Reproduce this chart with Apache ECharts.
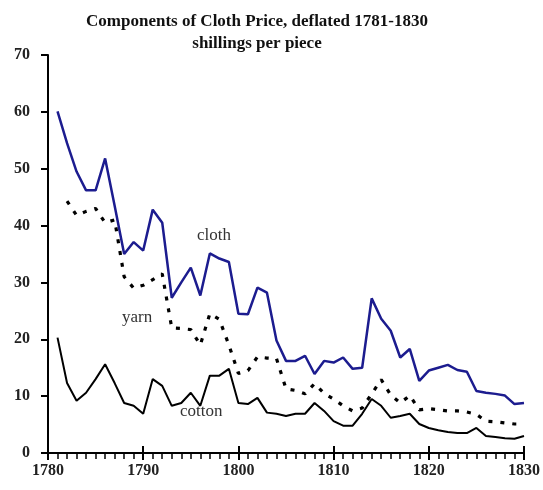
<!DOCTYPE html>
<html>
<head>
<meta charset="utf-8">
<script src="https://cdn.jsdelivr.net/npm/echarts@6/dist/echarts.min.js"></script>
<style>
  html, body { margin: 0; padding: 0; background: #fff; }
  #chart { width: 543px; height: 490px; }
</style>
</head>
<body>
<div id="chart"></div>
<script>
// years 1781..1830
const years = [];
for (let y = 1781; y <= 1830; y++) years.push(y);

const cloth = [
  60.1, 54.5, 49.5, 46.2, 46.2, 51.8, 43.5, 35.0, 37.1, 35.6,
  42.8, 40.5, 27.3, 30.0, 32.6, 27.7, 35.1, 34.2, 33.6, 24.5,
  24.4, 29.1, 28.2, 19.8, 16.2, 16.2, 17.1, 13.9, 16.2, 15.9,
  16.8, 14.8, 15.0, 27.2, 23.6, 21.5, 16.8, 18.3, 12.7, 14.5,
  15.0, 15.5, 14.6, 14.3, 10.9, 10.6, 10.4, 10.1, 8.6, 8.8
];
const yarn = [
  null, 44.3, 41.8, 42.5, 43.0, 40.5, 41.0, 31.0, 29.0, 29.5,
  30.5, 31.5, 22.0, 21.9, 21.7, 19.0, 24.5, 23.5, 19.0, 14.0,
  14.5, 16.9, 16.7, 16.6, 11.3, 11.0, 10.4, 12.2, 10.5, 9.5,
  8.3, 7.4, 7.9, 10.4, 12.9, 10.2, 8.8, 10.1, 7.6, 7.8,
  7.6, 7.4, 7.4, 7.2, 6.8, 5.6, 5.5, 5.3, 5.1, 5.1
];
const cotton = [
  20.3, 12.3, 9.2, 10.6, 13.0, 15.6, 12.3, 8.8, 8.3, 6.9,
  13.0, 11.8, 8.3, 8.8, 10.6, 8.3, 13.6, 13.6, 14.8, 8.8,
  8.6, 9.7, 7.1, 6.9, 6.5, 6.9, 6.9, 8.8, 7.4, 5.6,
  4.8, 4.8, 6.9, 9.5, 8.3, 6.2, 6.5, 6.9, 5.1, 4.4,
  4.0, 3.7, 3.5, 3.5, 4.4, 3.0, 2.8, 2.6, 2.5, 3.0
];
const xTickLabels = ['1780', '1790', '1800', '1810', '1820', '1830'];
const titleText = 'Components of Cloth Price, deflated 1781-1830';
const subText = 'shillings per piece';

const pairs = (vals) => years.map((y, i) => [y, vals[i]]);
const serif = '"Liberation Serif", "Times New Roman", serif';

const chart = echarts.init(document.getElementById('chart'));

const plotBox = () => ({left: 48, right: 19, top: 55, bottom: 37});

// extra grids at the same place only carry tick marks / labels
const tickAxis = (gridIndex, interval, inside, length, width) => ({
  type: 'value',
  gridIndex: gridIndex,
  min: 1780,
  max: 1830,
  interval: interval,
  axisLine: {show: true, lineStyle: {color: '#000', width: 2}},
  axisTick: {show: true, inside: inside, length: length, lineStyle: {color: '#000', width: width}},
  axisLabel: {show: false},
  splitLine: {show: false}
});
const hiddenY = (gridIndex) => ({
  type: 'value', gridIndex: gridIndex, min: 0, max: 70, show: false
});

const option = {
  animation: false,
  backgroundColor: '#fff',
  title: {
    text: titleText,
    subtext: subText,
    left: 252,
    textAlign: 'center',
    top: 8,
    itemGap: 5,
    textStyle: {fontFamily: serif, fontWeight: 'bold', fontSize: 17, color: '#111'},
    subtextStyle: {fontFamily: serif, fontWeight: 'bold', fontSize: 17, color: '#111'}
  },
  grid: [plotBox(), plotBox(), plotBox(), plotBox()],
  xAxis: [
    {
      type: 'value',
      gridIndex: 0,
      min: 1780,
      max: 1830,
      interval: 10,
      axisLine: {lineStyle: {color: '#000', width: 2}},
      axisTick: {show: true, length: 7, lineStyle: {color: '#000', width: 2}},
      minorTick: {show: true, splitNumber: 10, length: 6, lineStyle: {color: '#000', width: 1.5}},
      splitLine: {show: false},
      axisLabel: {show: false}
    },
    tickAxis(1, 1, false, 6, 1.5),
    tickAxis(2, 10, true, 7, 2),
    {
      // year labels (plain strings, no thousands separator)
      type: 'category',
      gridIndex: 3,
      data: xTickLabels,
      boundaryGap: false,
      axisLine: {show: false},
      axisTick: {show: false},
      splitLine: {show: false},
      axisLabel: {
        interval: 0,
        margin: 10,
        fontFamily: serif, fontWeight: 'bold', fontSize: 16, color: '#222'
      }
    }
  ],
  yAxis: [
    {
      type: 'value',
      gridIndex: 0,
      min: 0,
      max: 70,
      interval: 10,
      axisLine: {show: true, lineStyle: {color: '#000', width: 2}},
      axisTick: {show: true, length: 7, lineStyle: {color: '#000', width: 2}},
      splitLine: {show: false},
      axisLabel: {
        margin: 18,
        fontFamily: serif, fontWeight: 'bold', fontSize: 16, color: '#222'
      }
    },
    hiddenY(1),
    hiddenY(2),
    hiddenY(3)
  ],
  series: [
    {
      name: 'cloth',
      type: 'line',
      data: pairs(cloth),
      showSymbol: false,
      lineStyle: {color: '#1c1c8f', width: 2.5},
      z: 3
    },
    {
      name: 'yarn',
      type: 'line',
      data: pairs(yarn),
      showSymbol: false,
      lineStyle: {color: '#000', width: 3.2, type: [4, 8], cap: 'butt'},
      z: 2
    },
    {
      name: 'cotton',
      type: 'line',
      data: pairs(cotton),
      showSymbol: false,
      lineStyle: {color: '#000', width: 2},
      z: 2
    }
  ],
  graphic: [
    {type: 'text', left: 197, top: 227, style: {text: 'cloth', font: '17px ' + serif, fill: '#333'}},
    {type: 'text', left: 122, top: 309, style: {text: 'yarn', font: '17px ' + serif, fill: '#333'}},
    {type: 'text', left: 180, top: 403, style: {text: 'cotton', font: '17px ' + serif, fill: '#333'}}
  ]
};

chart.setOption(option);
window.addEventListener('resize', () => {
  chart.resize();
});
</script>
</body>
</html>
